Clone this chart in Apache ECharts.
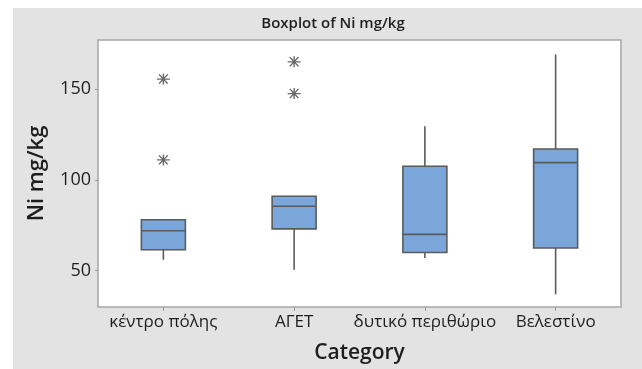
<!DOCTYPE html>
<html>
<head>
<meta charset="utf-8">
<script src="https://cdn.jsdelivr.net/npm/echarts@6/dist/echarts.min.js"></script>
<style>
  html, body { margin: 0; padding: 0; background: #ffffff; }
  #chart { width: 642px; height: 369px; }
</style>
</head>
<body>
<div id="chart"></div>
<script>
// Ni concentration (mg/kg) by sampling area
const categories = ['κέντρο πόλης', 'ΑΓΕΤ', 'δυτικό περιθώριο', 'Βελεστίνο'];
// five-number summaries: [lower whisker, Q1, median, Q3, upper whisker]
const lowerWhisker = [56, 50.5, 57, 37];
const q1 = [61.5, 73, 60, 62.5];
const median = [72, 85.5, 70, 109.5];
const q3 = [78, 91, 107.5, 117];
const upperWhisker = [78, 91, 129.5, 169];
// outliers: [category index, value]
const outliers = [[0, 155.5], [0, 111], [1, 165], [1, 147.5]];
const yTicks = [50, 100, 150];

const boxData = categories.map((c, i) => [i, lowerWhisker[i], q1[i], median[i], q3[i], upperWhisker[i]]);

const chart = echarts.init(document.getElementById('chart'), null, { renderer: 'canvas' });

const lineColor = '#5b5b5b';
const fillColor = '#7ba6da';
const textColor = '#1e1e1e';
const font = '"Open Sans", "Noto Sans", sans-serif';

function renderBox(params, api) {
  const idx = api.value(0);
  const lo = api.coord([idx, api.value(1)]);
  const b1 = api.coord([idx, api.value(2)]);
  const md = api.coord([idx, api.value(3)]);
  const b3 = api.coord([idx, api.value(4)]);
  const hi = api.coord([idx, api.value(5)]);
  const half = 22;
  const x = b1[0];
  const stroke = { stroke: lineColor, lineWidth: 1.6 };
  return {
    type: 'group',
    children: [
      { type: 'line', shape: { x1: x, y1: b3[1], x2: x, y2: hi[1] }, style: stroke },
      { type: 'line', shape: { x1: x, y1: b1[1], x2: x, y2: lo[1] }, style: stroke },
      { type: 'rect', shape: { x: x - half, y: b3[1], width: half * 2, height: b1[1] - b3[1] },
        style: { fill: fillColor, stroke: lineColor, lineWidth: 1.6 } },
      { type: 'line', shape: { x1: x - half, y1: md[1], x2: x + half, y2: md[1] }, style: stroke }
    ]
  };
}

const option = {
  backgroundColor: '#ffffff',
  animation: false,
  graphic: [
    { type: 'rect', z: -10, silent: true, shape: { x: 13, y: 8, width: 629, height: 361 },
      style: { fill: '#e3e3e3' } }
  ],
  title: {
    text: 'Boxplot of Ni mg/kg',
    left: 328, top: 11, textAlign: 'center',
    textStyle: { fontFamily: font, fontSize: 15, fontWeight: 600, color: textColor }
  },
  grid: {
    left: 98, right: 21, top: 40, bottom: 61,
    show: true, backgroundColor: '#ffffff', borderColor: '#a6a6a6', borderWidth: 1.5
  },
  xAxis: {
    type: 'category',
    data: categories,
    boundaryGap: true,
    name: 'Category',
    nameLocation: 'middle',
    nameGap: 36,
    nameTextStyle: { fontFamily: font, fontSize: 21, fontWeight: 600, color: textColor },
    axisLine: { show: false },
    axisTick: { show: true, alignWithLabel: true, length: 4, lineStyle: { color: '#9a9a9a' } },
    axisLabel: { fontFamily: font, fontSize: 17, color: textColor, margin: 7, interval: 0 },
    splitLine: { show: false }
  },
  yAxis: {
    type: 'value',
    min: 30, max: 177,
    name: 'Ni mg/kg',
    nameLocation: 'middle',
    nameGap: 50,
    nameTextStyle: { fontFamily: font, fontSize: 22, fontWeight: 600, color: textColor },
    axisLine: { show: false },
    axisTick: { show: true, length: 3, customValues: yTicks, lineStyle: { color: '#9a9a9a' } },
    axisLabel: { fontFamily: font, fontSize: 18, color: textColor, margin: 7, customValues: yTicks },
    splitLine: { show: false }
  },
  series: [
    {
      type: 'custom',
      renderItem: renderBox,
      encode: { x: 0, y: [1, 2, 3, 4, 5] },
      data: boxData,
      z: 2
    },
    {
      type: 'scatter',
      data: outliers,
      symbol: 'path://M0,6L12,6M2,1L10,11M10,1L2,11M6,0L6,12',
      symbolSize: [13, 11],
      itemStyle: { color: 'none', borderColor: '#444444', borderWidth: 1.3 },
      z: 3
    }
  ]
};

chart.setOption(option);
</script>
</body>
</html>
